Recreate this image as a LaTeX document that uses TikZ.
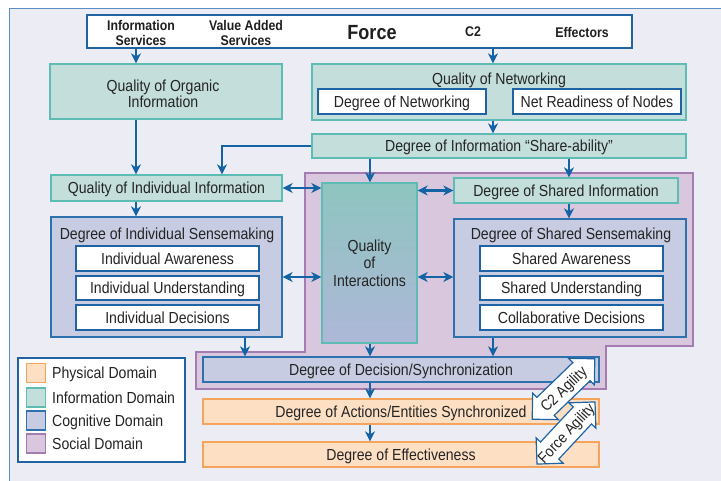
\documentclass[tikz,border=0pt]{standalone}
\usepackage{fontspec}
\setmainfont{Liberation Sans}[FakeStretch=0.88]
\usetikzlibrary{arrows.meta}
\definecolor{bg}{HTML}{ECEDF4}
\definecolor{framec}{HTML}{5B8FC4}
\definecolor{dblue}{HTML}{1F63A3}
\definecolor{arr}{HTML}{1464A5}
\definecolor{tealF}{HTML}{C4DFDB}
\definecolor{tealD}{HTML}{5DBDB5}
\definecolor{cogF}{HTML}{C7CCE2}
\definecolor{cogD}{HTML}{2E71AF}
\definecolor{phyF}{HTML}{FDE0C4}
\definecolor{phyD}{HTML}{F6A35B}
\definecolor{socF}{HTML}{D9C8DD}
\definecolor{socD}{HTML}{A47CB2}
\definecolor{txt}{HTML}{242424}
\definecolor{qtop}{HTML}{8EC5BF}
\definecolor{qbot}{HTML}{AEB7D8}
\newcommand\mainf{\fontsize{16}{17.5}\selectfont}
\newcommand\topf{\bfseries\fontsize{14}{15}\selectfont}
\tikzset{
  box/.style={draw, line width=1.3pt, inner sep=0pt, text=txt, font=\mainf, align=center},
  captxt/.style={text height=11.6pt, text depth=0pt},
  info/.style={box, draw=tealD, fill=tealF},
  cog/.style={box, draw=cogD, fill=cogF},
  phy/.style={box, draw=phyD, fill=phyF},
  wbox/.style={box, draw=dblue, fill=white},
  lbl/.style={inner sep=0pt, text=txt, font=\mainf, captxt},
  toptxt/.style={inner sep=0pt, text=black!88, font=\topf, align=center},
  flow/.style={draw=arr, line width=2.2pt, -{Stealth[length=10pt,width=10pt,inset=3pt]}},
  both/.style={draw=arr, line width=2.2pt, {Stealth[length=10pt,width=10pt,inset=3pt]}-{Stealth[length=10pt,width=10pt,inset=3pt]}},
  swatch/.style={draw, line width=1.3pt, minimum size=19pt, inner sep=0pt},
  agil/.style={fill=white, draw=dblue, line width=1.2pt},
  agtxt/.style={inner sep=0pt, text=txt, font=\fontsize{15.5}{16}\selectfont, text height=11pt, text depth=0pt}
}
\begin{document}
\begin{tikzpicture}[x=1pt,y=-1pt]
\useasboundingbox (0,0) rectangle (721,481);
\fill[white] (0,0) rectangle (721,481);
\fill[bg] (9,9) rectangle (721,481);
\draw[framec, line width=1pt] (9,481) -- (9,9) -- (721,9);

% social domain region
\filldraw[fill=socF, draw=socD, line width=1.2pt]
  (305,173) -- (693,173) -- (693,346) -- (606,346) -- (606,389)
  -- (196,389) -- (196,352) -- (305,352) -- cycle;

% x positions for connectors
\coordinate (c136) at (136,0);
\coordinate (c222) at (222,0);
\coordinate (c245) at (245,0);
\coordinate (c370) at (370,0);
\coordinate (c493) at (493,0);
\coordinate (c569) at (569,0);
\coordinate (c277) at (0,277);

% top force box
\node[wbox, minimum width=545pt, minimum height=33pt] (force) at (359.5,31.5) {};
\node[toptxt] (t1) at (141,32.5) {Information\\Services};
\node[toptxt] (t2) at (246,32.5) {Value Added\\Services};
\node[toptxt, font=\bfseries\fontsize{20.5}{22}\selectfont] (t3) at (372,33) {Force};
\node[toptxt] (t4) at (473,32) {C2};
\node[toptxt] (t5) at (582,32) {Effectors};

% information domain
\node[info, minimum width=232pt, minimum height=55pt] (qoi) at (166,91.5) {};
\node[lbl, align=center, text height=, text depth=, font=\fontsize{16}{16.5}\selectfont] (qoit) at (163,94) {Quality of Organic\\Information};
\node[info, minimum width=374pt, minimum height=56pt] (qon) at (499,92) {};
\node[lbl] (qont) at (499,79) {Quality of Networking};
\node[wbox, captxt, minimum width=168pt, minimum height=25pt] (dnet) at (402,101.5) {Degree of Networking};
\node[wbox, captxt, minimum width=168pt, minimum height=25pt] (nrn) at (597,101.5) {Net Readiness of Nodes};
\node[info, captxt, minimum width=374pt, minimum height=24pt] (share) at (499,146) {Degree of Information “Share-ability”};
\node[info, captxt, minimum width=231pt, minimum height=26pt] (qii) at (166.5,188) {Quality of Individual Information};
\node[info, captxt, minimum width=224pt, minimum height=25pt] (dsi) at (566,190.5) {Degree of Shared Information};

% cognitive
\node[cog, minimum width=231pt, minimum height=120pt] (dis) at (166.5,277) {};
\node[lbl] (dist) at (167,234) {Degree of Individual Sensemaking};
\node[wbox, captxt, minimum width=183pt, minimum height=25pt] (ia) at (167.5,258.5) {Individual Awareness};
\node[wbox, captxt, minimum width=183pt, minimum height=24pt] (iu) at (167.5,288) {Individual Understanding};
\node[wbox, captxt, minimum width=183pt, minimum height=25pt] (idc) at (167.5,317.5) {Individual Decisions};

\node[cog, minimum width=232pt, minimum height=118pt] (dss) at (570,278) {};
\node[lbl] (dsst) at (571,234) {Degree of Shared Sensemaking};
\node[wbox, captxt, minimum width=183pt, minimum height=25pt] (sa) at (571.5,258.5) {Shared Awareness};
\node[wbox, captxt, minimum width=183pt, minimum height=24pt] (su) at (571.5,288) {Shared Understanding};
\node[wbox, captxt, minimum width=183pt, minimum height=25pt] (cd) at (571.5,317.5) {Collaborative Decisions};

\node[box, draw=tealD, top color=qtop, bottom color=qbot, minimum width=95pt, minimum height=160pt] (qint) at (369.5,263) {Quality\\of\\Interactions};

\node[cog, captxt, minimum width=396pt, minimum height=25pt] (dds) at (401,369.5) {Degree of Decision/Synchronization};
\node[phy, captxt, minimum width=396pt, minimum height=25pt] (das) at (401,411.5) {Degree of Actions/Entities Synchronized};
\node[phy, captxt, minimum width=396pt, minimum height=25pt] (eff) at (401,454.5) {Degree of Effectiveness};

% connectors
\draw[flow] (c136 |- force.south) -- (c136 |- qoi.north);
\draw[flow] (c493 |- force.south) -- (c493 |- qon.north);
\draw[flow] (c136 |- qoi.south) -- (c136 |- qii.north);
\draw[flow] (c493 |- qon.south) -- (c493 |- share.north);
\draw[flow] (share.west) -| (c222 |- qii.north);
\draw[flow] (c370 |- share.south) -- (c370 |- qint.north);
\draw[flow] (c569 |- share.south) -- (c569 |- dsi.north);
\draw[flow] (c136 |- qii.south) -- (c136 |- dis.north);
\draw[flow] (c569 |- dsi.south) -- (c569 |- dss.north);
\draw[both] (qii.east) -- (qint.west |- qii.east);
\draw[both] (qint.east |- dsi.west) -- (dsi.west);
\draw[both] (dis.east |- c277) -- (qint.west |- c277);
\draw[both] (qint.east |- c277) -- (dss.west |- c277);
\draw[flow] (c245 |- dis.south) -- (c245 |- dds.north);
\draw[flow] (c370 |- qint.south) -- (c370 |- dds.north);
\draw[flow] (c493 |- dss.south) -- (c493 |- dds.north);
\draw[flow] (c370 |- dds.south) -- (c370 |- das.north);
\draw[flow] (c370 |- das.south) -- (c370 |- eff.north);

% agility arrows
\begin{scope}[shift={(563.5,389)}, rotate=44]
\filldraw[agil] (43.5,0) -- (25,18.5) -- (25,12.5) -- (-25,12.5) -- (-25,18.5) -- (-43.5,0)
  -- (-25,-18.5) -- (-25,-12.5) -- (25,-12.5) -- (25,-18.5) -- cycle;
\node[agtxt, rotate=44] (c2ag) at (0,0) {C2 Agility};
\end{scope}
\begin{scope}[shift={(566,433)}, rotate=47]
\filldraw[agil] (42.5,0) -- (24,18.5) -- (24,12.5) -- (-24,12.5) -- (-24,18.5) -- (-42.5,0)
  -- (-24,-18.5) -- (-24,-12.5) -- (24,-12.5) -- (24,-18.5) -- cycle;
\node[agtxt, rotate=47] (fag) at (0,0) {Force Agility};
\end{scope}

% legend
\node[wbox, minimum width=167pt, minimum height=104pt] (leg) at (101.5,410) {};
\node[swatch, fill=phyF, draw=phyD] (s1) at (36,373) {};
\node[swatch, fill=tealF, draw=tealD] (s2) at (36,397.5) {};
\node[swatch, fill=cogF, draw=cogD] (s3) at (36,420.5) {};
\node[swatch, fill=socF, draw=socD] (s4) at (36,443.5) {};
\node[lbl, anchor=west] (l1) at (52,373) {Physical Domain};
\node[lbl, anchor=west] (l2) at (52,397.5) {Information Domain};
\node[lbl, anchor=west] (l3) at (52,420.5) {Cognitive Domain};
\node[lbl, anchor=west] (l4) at (52,443.5) {Social Domain};
\end{tikzpicture}
\end{document}
